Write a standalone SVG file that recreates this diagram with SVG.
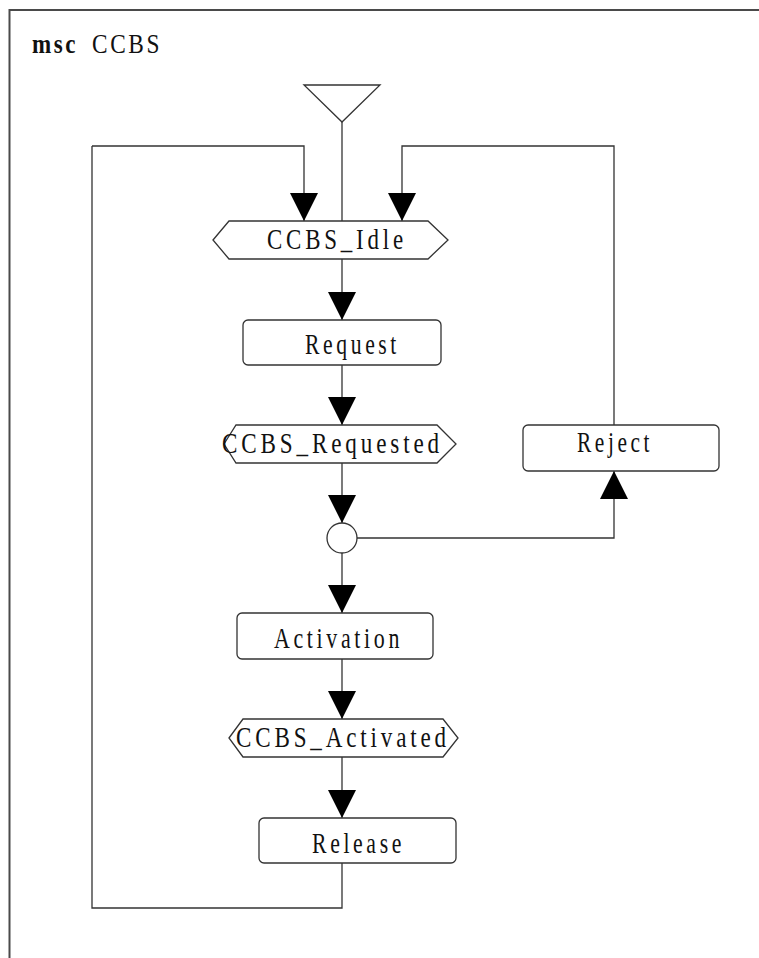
<svg xmlns="http://www.w3.org/2000/svg" width="759" height="958" viewBox="0 0 759 958">
  <style>
    .frame { fill: none; stroke: #4a4a4a; stroke-width: 2; }
    .line { fill: none; stroke: #333; stroke-width: 1.3; }
    .shape { fill: #fff; stroke: #333; stroke-width: 1.3; }
    .lbl { font-family: "Liberation Serif", "Times New Roman", serif; font-size: 30px; letter-spacing: 5px; fill: #111; }
    .ttl { font-size: 27px; letter-spacing: 3px; }
    .kw { font-weight: bold; }
  </style>
  <defs>
    <marker id="arrow" markerUnits="userSpaceOnUse" viewBox="0 0 28 28" refX="28" refY="14" markerWidth="28" markerHeight="28" orient="auto">
      <path d="M0,0 L28,14 L0,28 z" fill="#000"/>
    </marker>
  </defs>
  <rect width="759" height="958" fill="#fff"/>

  <!-- diagram frame and heading -->
  <path class="frame" d="M9.5,958 V10 H759"/>
  <g id="title">
    <text class="lbl ttl kw" x="32" y="53" textLength="46" lengthAdjust="spacingAndGlyphs">msc</text>
    <text class="lbl ttl" x="92" y="53" textLength="70" lengthAdjust="spacingAndGlyphs">CCBS</text>
  </g>

  <!-- connectors -->
  <g id="connectors">
    <path class="line" d="M342,122 V221"/>
    <path class="line" d="M92,146 H304 V221" marker-end="url(#arrow)"/>
    <path class="line" d="M614,425 V146 H402 V221" marker-end="url(#arrow)"/>
    <path class="line" d="M342,259 V320" marker-end="url(#arrow)"/>
    <path class="line" d="M342,365 V425" marker-end="url(#arrow)"/>
    <path class="line" d="M342,463 V523" marker-end="url(#arrow)"/>
    <path class="line" d="M357,538 H614 V471" marker-end="url(#arrow)"/>
    <path class="line" d="M342,553 V613" marker-end="url(#arrow)"/>
    <path class="line" d="M342,659 V719" marker-end="url(#arrow)"/>
    <path class="line" d="M342,757 V818" marker-end="url(#arrow)"/>
    <path class="line" d="M342,863 V908 H92 V146"/>
  </g>

  <!-- start symbol -->
  <g id="start">
    <polygon class="shape" points="304,85 380,85 342,122"/>
  </g>

  <g id="ccbs-idle">
    <polygon class="shape" points="213,240 229,221 428,221 448,240 428,259 229,259"/>
    <text class="lbl" x="267" y="249" textLength="140" lengthAdjust="spacingAndGlyphs">CCBS_Idle</text>
  </g>

  <g id="request">
    <rect class="shape" x="243" y="320" width="198" height="45" rx="5"/>
    <text class="lbl" x="305" y="354" textLength="95" lengthAdjust="spacingAndGlyphs">Request</text>
  </g>

  <g id="ccbs-requested">
    <polygon class="shape" points="224,444 236,425 437,425 456,444 437,463 236,463"/>
    <text class="lbl" x="222" y="453" textLength="221" lengthAdjust="spacingAndGlyphs">CCBS_Requested</text>
  </g>

  <g id="reject">
    <rect class="shape" x="523" y="425" width="196" height="46" rx="5"/>
    <text class="lbl" x="577" y="452" textLength="76" lengthAdjust="spacingAndGlyphs">Reject</text>
  </g>

  <g id="decision">
    <circle class="shape" cx="342" cy="538" r="15"/>
  </g>

  <g id="activation">
    <rect class="shape" x="237" y="613" width="196" height="46" rx="5"/>
    <text class="lbl" x="274" y="648" textLength="129" lengthAdjust="spacingAndGlyphs">Activation</text>
  </g>

  <g id="ccbs-activated">
    <polygon class="shape" points="229,738 243,719 443,719 458,738 443,757 243,757"/>
    <text class="lbl" x="236" y="747" textLength="214" lengthAdjust="spacingAndGlyphs">CCBS_Activated</text>
  </g>

  <g id="release">
    <rect class="shape" x="259" y="818" width="197" height="45" rx="5"/>
    <text class="lbl" x="312" y="853" textLength="93" lengthAdjust="spacingAndGlyphs">Release</text>
  </g>
</svg>
